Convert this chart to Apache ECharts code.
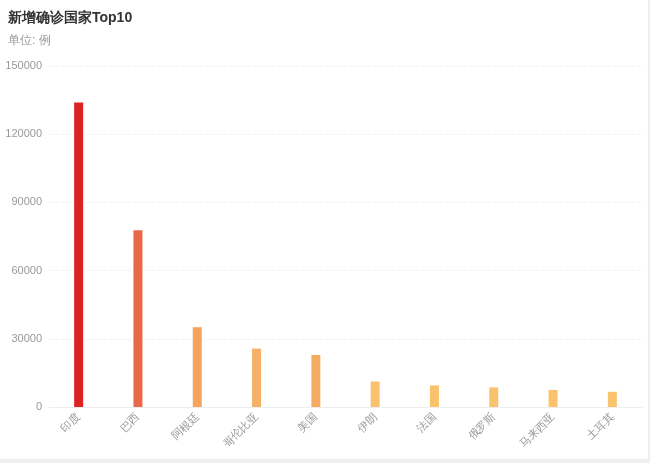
<!DOCTYPE html>
<html>
<head>
<meta charset="utf-8">
<script src="https://cdn.jsdelivr.net/npm/echarts@6/dist/echarts.min.js"></script>
<style>
	html, body { margin: 0; padding: 0; background: #efefef; }
	#container1 { width: 648px; height: 459px; background: #fff; }
</style>
</head>
<body>
<div id="container1"></div>
<script>
var countries = ['印度', '巴西', '阿根廷', '哥伦比亚', '美国', '伊朗', '法国', '俄罗斯', '马来西亚', '土耳其'];
var newCases = [133900, 77800, 35100, 25700, 22900, 11200, 9500, 8600, 7500, 6700];
var yTicks = [0, 30000, 60000, 90000, 120000, 150000];

var dom = document.getElementById("container1");
var myChart = echarts.init(dom);
myChart.setOption({
	title : {
		text : '新增确诊国家Top10',
		subtext : '单位: 例',
		left : 3,
		top : 6,
		itemGap : 10,
		textStyle : { fontSize : 14, fontWeight : 'bold', color : '#333' },
		subtextStyle : { fontSize : 12, color : '#999' }
	},
	grid : {
		left : 49,
		right : 6,
		top : 66,
		bottom : 52
	},
	xAxis : {
		type : 'category',
		data : countries,
		axisLine : { lineStyle : { color : '#eee' } },
		axisTick : { show : false },
		axisLabel : { rotate : 45, color : '#999', fontSize : 11, margin : 8 }
	},
	yAxis : {
		type : 'value',
		min : yTicks[0],
		max : yTicks[yTicks.length - 1],
		interval : 30000,
		axisLine : { show : false },
		axisTick : { show : false },
		axisLabel : {
			color : '#999',
			fontSize : 11,
			margin : 7,
			formatter : function(v) { return String(v); }
		},
		splitLine : { lineStyle : { color : '#f2f2f2', type : 'dashed' } }
	},
	series : [ {
		name : '新增确诊',
		type : 'bar',
		barWidth : 9,
		data : newCases,
		itemStyle : {
			color : function(params) {
				var colorList = ['#dc2222', '#e8694a', '#f5a35f', '#f7b068', '#f6ac60', '#fbc26e', '#fbc26e', '#fbc26e', '#fbc26e', '#fbc26e'];
				return colorList[params.dataIndex];
			}
		}
	} ]
});
</script>
</body>
</html>
